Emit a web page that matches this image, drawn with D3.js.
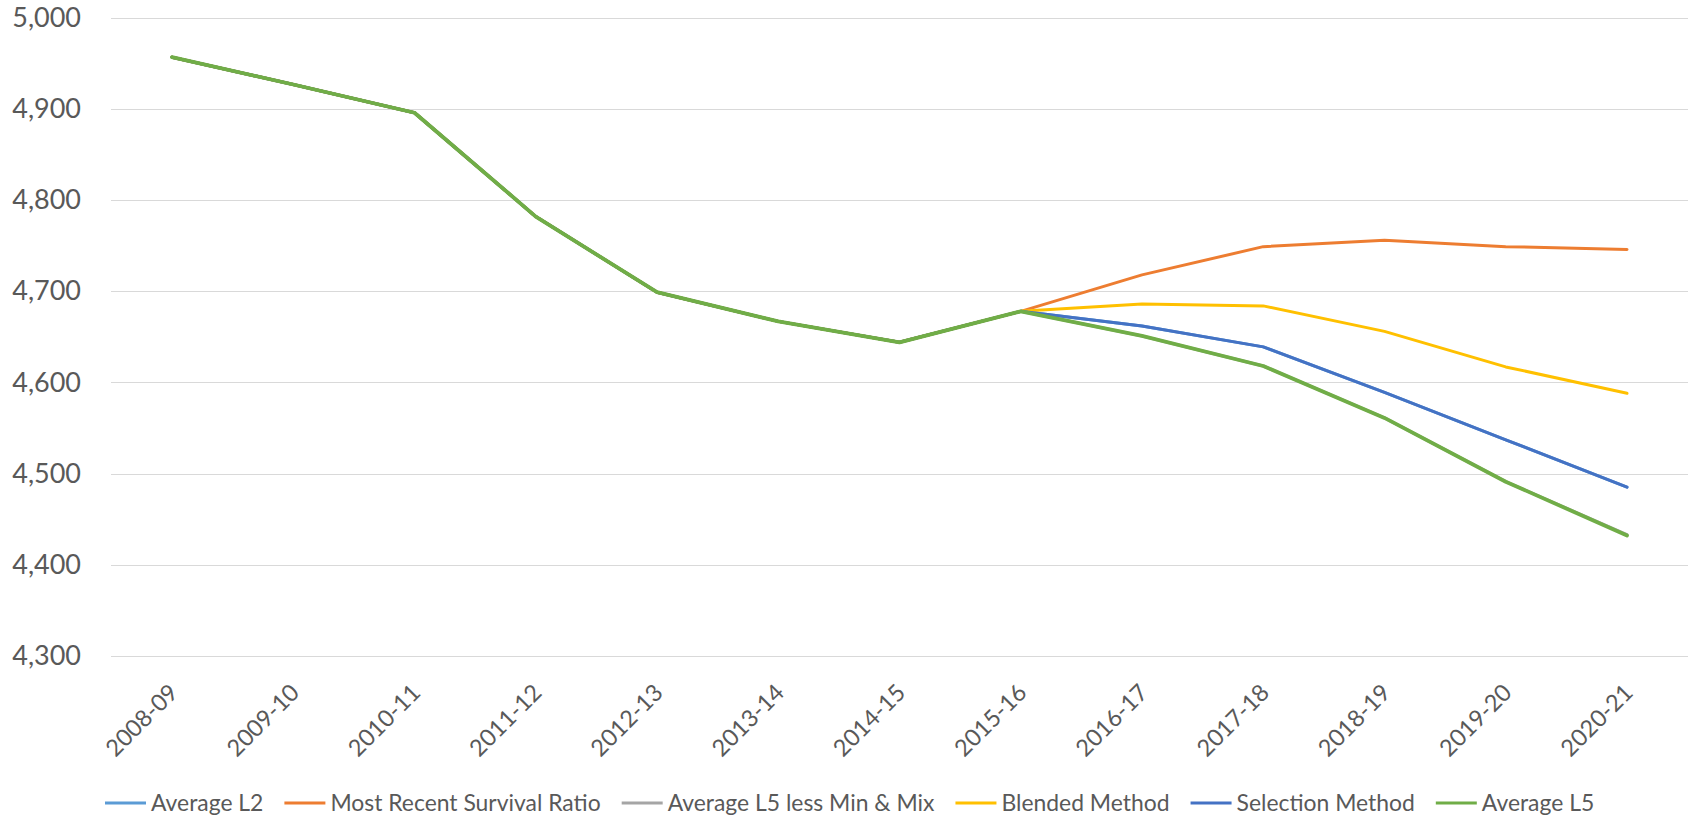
<!DOCTYPE html>
<html>
<head>
<meta charset="utf-8">
<script src="https://cdn.jsdelivr.net/npm/d3@7/dist/d3.min.js"></script>
<style>
  html, body { margin: 0; padding: 0; background: #ffffff; }
  svg { display: block; }
  text { font-family: Lato, "Open Sans", sans-serif; fill: #595959; }
</style>
</head>
<body>
<svg id="chart" width="1691" height="820"></svg>
<script>
// School years on the horizontal axis
const categories = ["2008-09", "2009-10", "2010-11", "2011-12", "2012-13", "2013-14", "2014-15",
  "2015-16", "2016-17", "2017-18", "2018-19", "2019-20", "2020-21"];

// Enrolment under each projection method (history shared through 2015-16)
const averageL2 = [4957, 4927, 4896, 4782, 4699, 4667, 4644, 4678, 4662, 4639, 4589, 4537, 4485];
const mostRecentSurvival = [4957, 4927, 4896, 4782, 4699, 4667, 4644, 4678, 4718, 4749, 4756, 4749, 4746];
const averageL5LessMinMax = [4957, 4927, 4896, 4782, 4699, 4667, 4644, 4678, 4651, 4618, 4561, 4491, 4433];
const blendedMethod = [4957, 4927, 4896, 4782, 4699, 4667, 4644, 4678, 4686, 4684, 4656, 4617, 4588];
const selectionMethod = [4957, 4927, 4896, 4782, 4699, 4667, 4644, 4678, 4662, 4639, 4589, 4537, 4485];
const averageL5 = [4957, 4927, 4896, 4782, 4699, 4667, 4644, 4678, 4651, 4618, 4561, 4491, 4432];

const seriesNames = ["Average L2", "Most Recent Survival Ratio", "Average L5 less Min & Mix",
  "Blended Method", "Selection Method", "Average L5"];
const seriesValues = [averageL2, mostRecentSurvival, averageL5LessMinMax, blendedMethod, selectionMethod, averageL5];
const seriesColors = ["#5B9BD5", "#ED7D31", "#A5A5A5", "#FFC000", "#4472C4", "#70AD47"];

const yTicks = [4300, 4400, 4500, 4600, 4700, 4800, 4900, 5000];

const svg = d3.select("#chart");

const plotLeft = 111, plotRight = 1688;
const x = d3.scalePoint().domain(categories).range([172, 1627]);
const y = d3.scaleLinear().domain([4300, 5000]).range([655.7, 18]);

// Horizontal gridlines
svg.append("g").selectAll("line")
  .data(yTicks)
  .join("line")
  .attr("x1", plotLeft).attr("x2", plotRight)
  .attr("y1", d => Math.round(y(d)) + 0.5).attr("y2", d => Math.round(y(d)) + 0.5)
  .attr("stroke", "#d9d9d9").attr("stroke-width", 1);

// Value axis labels
const yAxis = d3.axisLeft(y).tickValues(yTicks).tickFormat(d3.format(",")).tickSize(0).tickPadding(0);
const yg = svg.append("g").attr("transform", "translate(81,0)").call(yAxis);
yg.select(".domain").remove();
yg.selectAll("text").attr("font-size", 27).attr("fill", "#595959")
  .style("font-family", "Lato, 'Open Sans', sans-serif");

// Category axis labels, rotated
const xAxis = d3.axisBottom(x).tickSize(0).tickPadding(0);
const xg = svg.append("g").attr("transform", "translate(0,694)").call(xAxis);
xg.select(".domain").remove();
xg.selectAll("text")
  .attr("font-size", 23.5)
  .attr("fill", "#595959")
  .style("font-family", "Lato, 'Open Sans', sans-serif")
  .attr("text-anchor", "end")
  .attr("dy", 0)
  .attr("y", 0)
  .attr("transform", "translate(7,0) rotate(-45)");

// Series lines
const line = d3.line()
  .x((d, i) => x(categories[i]))
  .y(d => y(d));

svg.append("g").selectAll("path")
  .data(seriesValues)
  .join("path")
  .attr("d", d => line(d))
  .attr("fill", "none")
  .attr("stroke", (d, i) => seriesColors[i])
  .attr("stroke-width", (d, i) => i === 5 ? 3.8 : 3)
  .attr("stroke-linejoin", "round")
  .attr("stroke-linecap", "round");

// Legend along the bottom: swatch, then label, items laid out left to right
const legendY = 803;
const swatchLen = 41, swatchGap = 5, itemGap = 21;
const legendFont = 22.9;
const lg = svg.append("g");
let cursor = 105;
seriesNames.forEach((name, i) => {
  const item = lg.append("g").attr("transform", `translate(${cursor},${legendY})`);
  item.append("line")
    .attr("x1", 0).attr("x2", swatchLen)
    .attr("stroke", seriesColors[i])
    .attr("stroke-width", 3);
  const t = item.append("text")
    .attr("x", swatchLen + swatchGap)
    .attr("dy", "0.36em")
    .attr("font-size", legendFont)
    .text(name);
  cursor += swatchLen + swatchGap + t.node().getComputedTextLength() + itemGap;
});
</script>
</body>
</html>
